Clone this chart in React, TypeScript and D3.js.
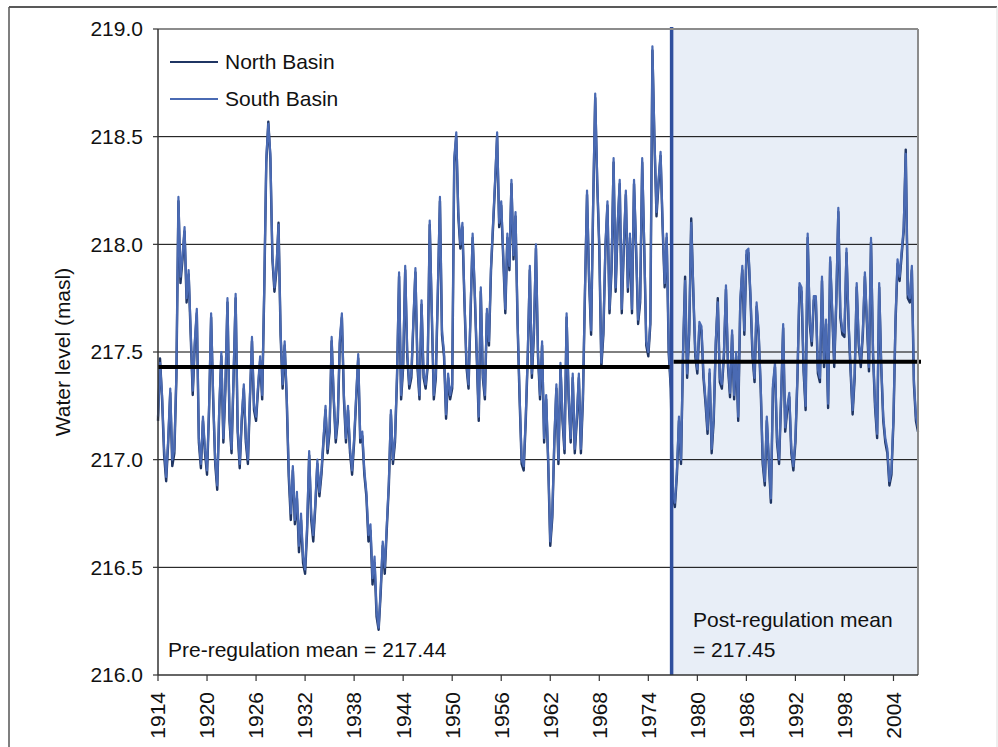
import React from "react";
import * as d3 from "d3";

// Quarterly water levels (masl), starting 1914.0, step 0.25 yr
const startYear = 1914;
const stepYears = 0.25;

const southBasin: number[] = [
  217.20, 217.45, 217.30, 217.05, // 1914
  216.92, 217.10, 217.33, 217.00, // 1915
  217.05, 217.40, 218.22, 217.85, // 1916
  217.95, 218.08, 217.75, 217.88, // 1917
  217.60, 217.32, 217.55, 217.70, // 1918
  217.10, 216.98, 217.20, 217.05, // 1919
  216.95, 217.25, 217.68, 217.30, // 1920
  217.00, 216.88, 217.25, 217.50, // 1921
  217.10, 217.35, 217.75, 217.20, // 1922
  217.05, 217.40, 217.77, 217.15, // 1923
  216.98, 217.20, 217.35, 217.10, // 1924
  217.00, 217.30, 217.57, 217.25, // 1925
  217.20, 217.35, 217.48, 217.30, // 1926
  217.80, 218.40, 218.56, 218.42, // 1927
  217.95, 217.80, 217.90, 218.09, // 1928
  217.60, 217.35, 217.55, 217.30, // 1929
  216.95, 216.75, 216.97, 216.72, // 1930
  216.85, 216.60, 216.75, 216.55, // 1931
  216.49, 216.70, 217.04, 216.75, // 1932
  216.65, 216.80, 217.00, 216.85, // 1933
  216.95, 217.10, 217.25, 217.05, // 1934
  217.15, 217.57, 217.30, 217.10, // 1935
  217.20, 217.56, 217.68, 217.30, // 1936
  217.10, 217.25, 217.05, 216.95, // 1937
  217.10, 217.30, 217.49, 217.10, // 1938
  217.13, 216.95, 216.85, 216.65, // 1939
  216.70, 216.45, 216.55, 216.30, // 1940
  216.22, 216.40, 216.62, 216.50, // 1941
  216.70, 216.90, 217.23, 217.00, // 1942
  217.10, 217.40, 217.87, 217.30, // 1943
  217.45, 217.90, 217.50, 217.35, // 1944
  217.40, 217.65, 217.89, 217.45, // 1945
  217.30, 217.74, 217.40, 217.35, // 1946
  217.45, 218.11, 217.70, 217.30, // 1947
  217.40, 217.80, 218.22, 217.60, // 1948
  217.50, 217.21, 217.40, 217.30, // 1949
  217.35, 218.40, 218.52, 218.15, // 1950
  218.00, 218.10, 217.75, 217.45, // 1951
  217.35, 217.70, 218.05, 217.80, // 1952
  217.50, 217.20, 217.80, 217.40, // 1953
  217.30, 217.70, 217.55, 217.90, // 1954
  218.10, 218.30, 218.52, 218.10, // 1955
  218.20, 217.95, 217.70, 218.05, // 1956
  217.90, 218.30, 217.95, 218.15, // 1957
  217.65, 217.30, 217.00, 216.97, // 1958
  217.20, 217.50, 217.90, 217.40, // 1959
  217.60, 218.00, 217.50, 217.30, // 1960
  217.55, 217.10, 217.30, 217.00, // 1961
  216.62, 216.75, 217.10, 217.35, // 1962
  217.00, 217.45, 217.20, 217.05, // 1963
  217.68, 217.30, 217.10, 217.40, // 1964
  217.05, 217.20, 217.40, 217.05, // 1965
  217.30, 217.80, 218.25, 217.85, // 1966
  217.60, 218.20, 218.70, 218.30, // 1967
  218.00, 217.45, 217.60, 218.00, // 1968
  218.20, 217.70, 217.90, 218.40, // 1969
  217.80, 218.10, 218.30, 217.70, // 1970
  218.00, 218.25, 217.80, 218.05, // 1971
  217.70, 218.30, 218.00, 217.65, // 1972
  217.75, 218.40, 218.00, 217.55, // 1973
  217.50, 217.65, 218.92, 218.50, // 1974
  218.15, 218.30, 218.43, 218.10, // 1975
  217.82, 218.05, 217.51, 217.35, // 1976
  216.85, 216.80, 216.95, 217.20, // 1977
  217.00, 217.51, 217.83, 217.40, // 1978
  217.60, 218.10, 217.80, 217.50, // 1979
  217.42, 217.64, 217.62, 217.40, // 1980
  217.28, 217.14, 217.42, 217.05, // 1981
  217.20, 217.55, 217.73, 217.38, // 1982
  217.35, 217.50, 217.81, 217.45, // 1983
  217.31, 217.60, 217.30, 217.50, // 1984
  217.20, 217.74, 217.90, 217.60, // 1985
  217.97, 217.98, 217.77, 217.50, // 1986
  217.38, 217.73, 217.60, 217.35, // 1987
  217.00, 216.90, 217.20, 217.00, // 1988
  216.82, 217.35, 217.45, 217.10, // 1989
  217.00, 217.30, 217.63, 217.15, // 1990
  217.25, 217.31, 217.05, 216.97, // 1991
  217.10, 217.40, 217.82, 217.80, // 1992
  217.43, 217.25, 218.05, 217.65, // 1993
  217.55, 217.76, 217.76, 217.42, // 1994
  217.38, 217.85, 217.45, 217.65, // 1995
  217.26, 217.94, 217.70, 217.45, // 1996
  217.75, 218.17, 217.68, 217.60, // 1997
  217.59, 217.98, 217.65, 217.43, // 1998
  217.23, 217.40, 217.82, 217.55, // 1999
  217.45, 217.60, 217.87, 217.65, // 2000
  217.43, 218.03, 217.50, 217.26, // 2001
  217.12, 217.82, 217.45, 217.20, // 2002
  217.10, 217.05, 216.90, 216.95, // 2003
  217.20, 217.66, 217.93, 217.85, // 2004
  217.97, 218.08, 218.42, 217.77, // 2005
  217.75, 217.90, 217.37, 217.20, // 2006
  217.15, // 2007
];

const northBasin: number[] = [
  217.18, 217.47, 217.28, 217.02, // 1914
  216.90, 217.08, 217.31, 216.97, // 1915
  217.03, 217.38, 218.20, 217.82, // 1916
  217.93, 218.06, 217.73, 217.86, // 1917
  217.58, 217.30, 217.53, 217.68, // 1918
  217.08, 216.96, 217.18, 217.03, // 1919
  216.93, 217.23, 217.66, 217.28, // 1920
  216.98, 216.86, 217.23, 217.48, // 1921
  217.08, 217.33, 217.73, 217.18, // 1922
  217.03, 217.38, 217.75, 217.13, // 1923
  216.96, 217.18, 217.33, 217.08, // 1924
  216.98, 217.28, 217.55, 217.23, // 1925
  217.18, 217.33, 217.46, 217.28, // 1926
  217.78, 218.38, 218.57, 218.40, // 1927
  217.93, 217.78, 217.88, 218.10, // 1928
  217.58, 217.33, 217.53, 217.28, // 1929
  216.92, 216.72, 216.95, 216.70, // 1930
  216.82, 216.57, 216.72, 216.52, // 1931
  216.47, 216.67, 217.02, 216.72, // 1932
  216.62, 216.78, 216.98, 216.83, // 1933
  216.93, 217.08, 217.23, 217.03, // 1934
  217.13, 217.55, 217.28, 217.08, // 1935
  217.18, 217.54, 217.66, 217.28, // 1936
  217.08, 217.23, 217.03, 216.93, // 1937
  217.08, 217.28, 217.47, 217.08, // 1938
  217.11, 216.93, 216.83, 216.62, // 1939
  216.67, 216.42, 216.52, 216.27, // 1940
  216.21, 216.38, 216.60, 216.47, // 1941
  216.68, 216.88, 217.21, 216.98, // 1942
  217.08, 217.38, 217.85, 217.28, // 1943
  217.43, 217.88, 217.48, 217.33, // 1944
  217.38, 217.63, 217.87, 217.43, // 1945
  217.28, 217.72, 217.38, 217.33, // 1946
  217.43, 218.09, 217.68, 217.28, // 1947
  217.38, 217.78, 218.20, 217.58, // 1948
  217.48, 217.19, 217.38, 217.28, // 1949
  217.33, 218.38, 218.50, 218.13, // 1950
  217.98, 218.08, 217.73, 217.43, // 1951
  217.33, 217.68, 218.03, 217.78, // 1952
  217.48, 217.18, 217.78, 217.38, // 1953
  217.28, 217.68, 217.53, 217.88, // 1954
  218.08, 218.28, 218.50, 218.08, // 1955
  218.18, 217.93, 217.68, 218.03, // 1956
  217.88, 218.28, 217.93, 218.13, // 1957
  217.63, 217.28, 216.98, 216.95, // 1958
  217.18, 217.48, 217.88, 217.38, // 1959
  217.58, 217.98, 217.48, 217.28, // 1960
  217.53, 217.08, 217.28, 216.98, // 1961
  216.60, 216.73, 217.08, 217.33, // 1962
  216.98, 217.43, 217.18, 217.03, // 1963
  217.66, 217.28, 217.08, 217.38, // 1964
  217.03, 217.18, 217.38, 217.03, // 1965
  217.28, 217.78, 218.23, 217.83, // 1966
  217.58, 218.18, 218.68, 218.28, // 1967
  217.98, 217.43, 217.58, 217.98, // 1968
  218.18, 217.68, 217.88, 218.38, // 1969
  217.78, 218.08, 218.28, 217.68, // 1970
  217.98, 218.23, 217.78, 218.03, // 1971
  217.68, 218.28, 217.98, 217.63, // 1972
  217.73, 218.38, 217.98, 217.53, // 1973
  217.48, 217.63, 218.90, 218.48, // 1974
  218.13, 218.28, 218.41, 218.08, // 1975
  217.80, 218.03, 217.49, 217.33, // 1976
  216.83, 216.78, 216.93, 217.18, // 1977
  216.98, 217.49, 217.85, 217.38, // 1978
  217.58, 218.12, 217.78, 217.48, // 1979
  217.40, 217.62, 217.60, 217.38, // 1980
  217.26, 217.12, 217.40, 217.03, // 1981
  217.18, 217.53, 217.75, 217.36, // 1982
  217.33, 217.48, 217.79, 217.43, // 1983
  217.29, 217.58, 217.28, 217.48, // 1984
  217.18, 217.72, 217.88, 217.58, // 1985
  217.95, 217.96, 217.75, 217.48, // 1986
  217.36, 217.71, 217.58, 217.33, // 1987
  216.98, 216.88, 217.18, 216.98, // 1988
  216.80, 217.33, 217.43, 217.08, // 1989
  216.98, 217.28, 217.61, 217.13, // 1990
  217.23, 217.29, 217.03, 216.95, // 1991
  217.08, 217.38, 217.80, 217.78, // 1992
  217.41, 217.23, 218.03, 217.63, // 1993
  217.53, 217.74, 217.74, 217.40, // 1994
  217.36, 217.83, 217.43, 217.63, // 1995
  217.24, 217.92, 217.68, 217.43, // 1996
  217.73, 218.15, 217.66, 217.58, // 1997
  217.57, 217.96, 217.63, 217.41, // 1998
  217.21, 217.38, 217.80, 217.53, // 1999
  217.43, 217.58, 217.85, 217.63, // 2000
  217.41, 218.01, 217.48, 217.24, // 2001
  217.10, 217.80, 217.43, 217.18, // 2002
  217.08, 217.03, 216.88, 216.93, // 2003
  217.18, 217.64, 217.91, 217.83, // 2004
  217.95, 218.06, 218.44, 217.75, // 2005
  217.73, 217.88, 217.35, 217.18, // 2006
  217.13, // 2007
];

const yTickValues = [216.0, 216.5, 217.0, 217.5, 218.0, 218.5, 219.0];
const gridValues = [216.5, 217.0, 217.5, 218.0, 218.5];
const xTickYears = [1914, 1920, 1926, 1932, 1938, 1944, 1950, 1956, 1962, 1968, 1974, 1980, 1986, 1992, 1998, 2004];
const xDomainYears = [1914, 2007];
const regulationYear = 1976.85;
const preRegulationMean = 217.43;
const postRegulationMean = 217.455;
const seriesNames = ["North Basin", "South Basin"];
const seriesColors = ["#1f3563", "#4a6ab3"];

export default function App() {
  const W = 998;
  const H = 747;
  const L = 158;
  const R = 918;
  const T = 29;
  const B = 675;
  const font = "'Liberation Sans', Arial, sans-serif";
  const fs = 21;

  const x = d3.scaleLinear().domain(xDomainYears).range([L, R]);
  const y = d3.scaleLinear().domain([216, 219]).range([B, T]);
  const line = d3
    .line<number>()
    .x((_, i) => x(startYear + i * stepYears))
    .y((d) => y(d));

  const xReg = x(regulationYear);

  return (
    <div style={{ position: "absolute", left: 0, top: 0 }}>
      <svg width={W} height={H} style={{ display: "block", background: "#fff" }} fontFamily={font}>
        {/* outer frame */}
        <line x1={9} y1={7} x2={997} y2={7} stroke="#222" strokeWidth={1.5} />
        <line x1={9} y1={7} x2={9} y2={H} stroke="#555" strokeWidth={1.5} />
        <line x1={997} y1={7} x2={997} y2={H} stroke="#ddd" strokeWidth={1} />

        {/* post-regulation shade */}
        <rect x={xReg} y={T} width={R - xReg} height={B - T} fill="#e8eef7" />

        {/* gridlines */}
        {gridValues.map((v) => (
          <line key={v} x1={L} x2={R} y1={y(v)} y2={y(v)} stroke="#000" strokeWidth={1} />
        ))}

        {/* series */}
        <path d={line(northBasin) || ""} fill="none" stroke={seriesColors[0]} strokeWidth={2.4} strokeLinejoin="round" />
        <path d={line(southBasin) || ""} fill="none" stroke={seriesColors[1]} strokeWidth={2.2} strokeLinejoin="round" />

        {/* regulation line */}
        <line x1={xReg} x2={xReg} y1={T - 2} y2={B} stroke="#2f4f9e" strokeWidth={3.5} />

        {/* means */}
        <line x1={L} x2={xReg - 2} y1={y(preRegulationMean)} y2={y(preRegulationMean)} stroke="#000" strokeWidth={4} />
        <line x1={xReg + 2} x2={R + 3} y1={y(postRegulationMean)} y2={y(postRegulationMean)} stroke="#000" strokeWidth={4} />

        {/* plot border */}
        <line x1={L} x2={R} y1={T} y2={T} stroke="#8c8c8c" strokeWidth={2} />
        <line x1={R} x2={R} y1={T} y2={B} stroke="#8c8c8c" strokeWidth={2} />
        <line x1={L} x2={L} y1={T} y2={B} stroke="#333" strokeWidth={1.5} />
        <line x1={L} x2={R} y1={B} y2={B} stroke="#333" strokeWidth={1.5} />

        {/* y axis */}
        {yTickValues.map((v) => (
          <g key={v}>
            <line x1={L - 5} x2={L} y1={y(v)} y2={y(v)} stroke="#333" strokeWidth={1.2} />
            <text x={143} y={y(v)} dy="0.35em" textAnchor="end" fontSize={fs} fill="#111">
              {v.toFixed(1)}
            </text>
          </g>
        ))}
        <text
          transform={`translate(63,352) rotate(-90)`}
          textAnchor="middle"
          dy="0.35em"
          fontSize={fs}
          fill="#111"
        >
          Water level (masl)
        </text>

        {/* x axis */}
        {xTickYears.map((t) => (
          <g key={t}>
            <line x1={x(t)} x2={x(t)} y1={B} y2={B + 6} stroke="#333" strokeWidth={1.2} />
            <text
              transform={`translate(${x(t)},${B + 17}) rotate(-90)`}
              textAnchor="end"
              dy="0.35em"
              fontSize={fs}
              fill="#111"
            >
              {t}
            </text>
          </g>
        ))}

        {/* legend */}
        {seriesNames.map((name, i) => (
          <g key={name}>
            <line x1={170} x2={218} y1={62 + i * 37} y2={62 + i * 37} stroke={seriesColors[i]} strokeWidth={2} />
            <text x={225} y={62 + i * 37} dy="0.35em" fontSize={fs} fill="#111">
              {name}
            </text>
          </g>
        ))}

        {/* annotations */}
        <text x={168} y={657} fontSize={fs} fill="#111">
          Pre-regulation mean = 217.44
        </text>
        <text x={693} y={627} fontSize={fs} fill="#111">
          Post-regulation mean
        </text>
        <text x={693} y={657} fontSize={fs} fill="#111">
          = 217.45
        </text>
      </svg>
    </div>
  );
}
